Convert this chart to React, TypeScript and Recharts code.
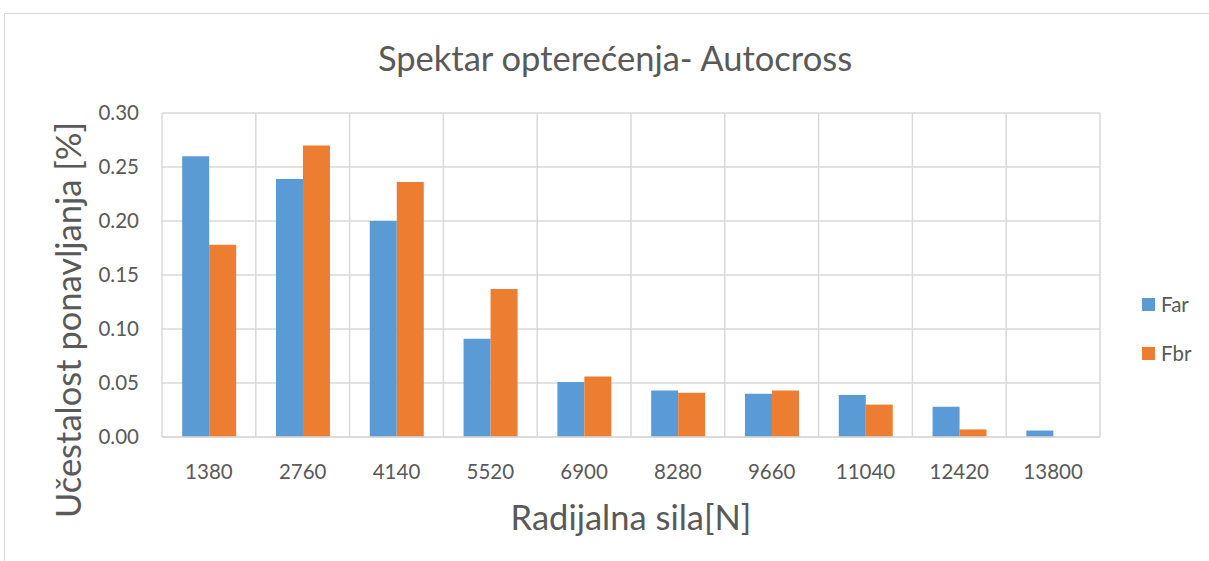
import React from 'react';
import { BarChart, Bar, XAxis, YAxis, CartesianGrid } from 'recharts';

const categories = ['1380', '2760', '4140', '5520', '6900', '8280', '9660', '11040', '12420', '13800'];
const farValues = [0.26, 0.239, 0.2, 0.091, 0.051, 0.043, 0.04, 0.039, 0.028, 0.006];
const fbrValues = [0.178, 0.27, 0.236, 0.137, 0.056, 0.041, 0.043, 0.03, 0.007, 0];
const yTicks = [0, 0.05, 0.1, 0.15, 0.2, 0.25, 0.3];

const data = categories.map((c, i) => ({ name: c, Far: farValues[i], Fbr: fbrValues[i] }));

const FONT = 'Lato, "Liberation Sans", sans-serif';
const TEXT = '#595959';
const GRID = '#d9d9d9';
const BLUE = '#5B9BD5';
const ORANGE = '#ED7D31';

export default function App() {
  return (
    <div style={{ position: 'absolute', left: 0, top: 0, width: 1209, height: 561, background: '#fff', fontFamily: FONT, overflow: 'hidden' }}>
      <div style={{ position: 'absolute', left: 4, top: 13, width: 1220, height: 600, border: '1px solid #d9d9d9' }} />
      <div style={{ position: 'absolute', left: 0, width: 1230, top: 37, textAlign: 'center', fontSize: 34.5, lineHeight: '42px', color: TEXT }}>
        Spektar opterećenja- Autocross
      </div>
      <div style={{ position: 'absolute', left: 162, width: 938, top: 496, textAlign: 'center', fontSize: 34.5, lineHeight: '42px', color: TEXT }}>
        Radijalna sila[N]
      </div>
      <div
        style={{
          position: 'absolute', left: 68, top: 320, width: 500, marginLeft: -250, marginTop: -21,
          textAlign: 'center', fontSize: 34.5, color: TEXT, transform: 'rotate(-90deg)', lineHeight: '42px',
        }}
      >
        Učestalost ponavljanja [%]
      </div>
      <div style={{ position: 'absolute', left: 1142, top: 292, fontSize: 20.5, color: TEXT }}>
        {[['Far', BLUE], ['Fbr', ORANGE]].map(([n, c], i) => (
          <div key={n} style={{ display: 'flex', alignItems: 'center', height: 24, marginBottom: i === 0 ? 25 : 0 }}>
            <span style={{ display: 'inline-block', width: 13, height: 13, background: c, marginRight: 6 }} />
            {n}
          </div>
        ))}
      </div>
      <div style={{ position: 'absolute', left: 0, top: 0 }}>
        <BarChart
          width={1209}
          height={561}
          data={data}
          margin={{ top: 113, right: 109, bottom: 94, left: 102 }}
          barCategoryGap="21.5%"
          barGap={0}
        >
          <CartesianGrid
            stroke={GRID}
            strokeWidth={1.5}
            verticalCoordinatesGenerator={({ offset }: any) =>
              categories.map((_, i) => offset.left + (i * offset.width) / categories.length).concat([offset.left + offset.width])
            }
          />
          <XAxis
            dataKey="name"
            axisLine={{ stroke: GRID, strokeWidth: 1.5 }}
            tickLine={false}
            tickMargin={21}
            tick={{ fill: TEXT, fontSize: 20.5, fontFamily: FONT }}
            interval={0}
          />
          <YAxis
            width={60}
            domain={[0, 0.3]}
            ticks={yTicks}
            axisLine={false}
            tickLine={false}
            tickMargin={17}
            tickFormatter={(v: number) => v.toFixed(2)}
            tick={{ fill: TEXT, fontSize: 20.5, fontFamily: FONT }}
          />
          <Bar dataKey="Far" fill={BLUE} isAnimationActive={false} />
          <Bar dataKey="Fbr" fill={ORANGE} isAnimationActive={false} />
        </BarChart>
      </div>
    </div>
  );
}
